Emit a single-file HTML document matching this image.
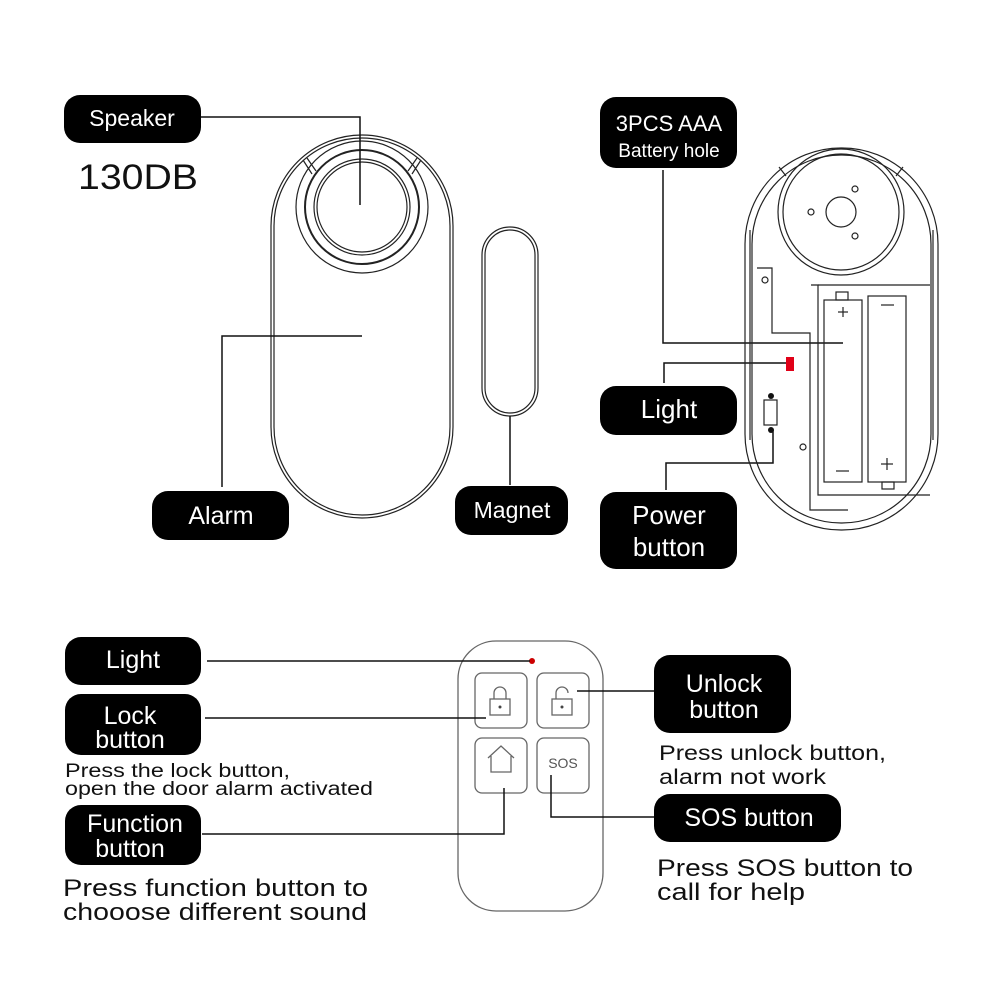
<!DOCTYPE html>
<html><head><meta charset="utf-8"><style>
body{margin:0;background:#fff;}
svg{display:block}
text{font-family:"Liberation Sans",sans-serif;}
</style></head><body>
<svg width="1000" height="1000" viewBox="0 0 1000 1000" xmlns="http://www.w3.org/2000/svg">
<g fill="none" stroke="#222" stroke-width="1.2">
<rect x="271" y="135" width="182" height="383" rx="91"/>
<rect x="274" y="138" width="176" height="377" rx="88"/>
<circle cx="362" cy="207" r="66"/>
<circle cx="362" cy="207" r="57" stroke-width="2"/>
<circle cx="362" cy="207" r="48"/>
<circle cx="362" cy="207" r="45"/>
<line x1="303" y1="160" x2="312" y2="174"/><line x1="307" y1="158" x2="316" y2="171"/>
<line x1="421" y1="160" x2="412" y2="174"/><line x1="417" y1="158" x2="408" y2="171"/>
<rect x="482" y="227" width="56" height="189" rx="28"/>
<rect x="485" y="230" width="50" height="183" rx="25"/>
</g>
<g fill="none" stroke="#111" stroke-width="1.5">
<polyline points="201,117 360,117 360,205"/>
<polyline points="222,487 222,336 362,336"/>
<line x1="510" y1="416" x2="510" y2="485"/>
<polyline points="663,170 663,343 843,343"/>
<polyline points="664,383 664,363 790,363"/>
<polyline points="666,490 666,463 773,463 773,430"/>
</g>
<g fill="none" stroke="#222" stroke-width="1.2">
<rect x="745" y="148" width="193" height="382" rx="96"/>
<rect x="752" y="155" width="179" height="368" rx="89"/>
<circle cx="841" cy="212" r="63"/>
<circle cx="841" cy="212" r="58"/>
<circle cx="841" cy="212" r="15"/>
<circle cx="811" cy="212" r="3"/><circle cx="855" cy="189" r="3"/><circle cx="855" cy="236" r="3"/>
<line x1="779" y1="167" x2="786" y2="176"/><line x1="903" y1="167" x2="896" y2="176"/>
<line x1="750" y1="230" x2="750" y2="440"/><line x1="933" y1="230" x2="933" y2="440"/>
<polyline points="757,268 772,268 772,333 810,333 810,510 848,510"/>
<polyline points="811,285 818,285 818,495 930,495"/>
<polyline points="818,285 930,285"/>
<circle cx="765" cy="280" r="3"/>
<circle cx="803" cy="447" r="3"/>
<rect x="824" y="300" width="38" height="182"/>
<rect x="836" y="292" width="12" height="8"/>
<rect x="868" y="296" width="38" height="186"/>
<rect x="882" y="482" width="12" height="7"/>
<line x1="843" y1="307" x2="843" y2="317"/><line x1="838" y1="312" x2="848" y2="312"/>
<line x1="836" y1="471" x2="849" y2="471"/>
<line x1="881" y1="305" x2="894" y2="305"/>
<line x1="887" y1="458" x2="887" y2="470"/><line x1="881" y1="464" x2="893" y2="464"/>
<rect x="764" y="400" width="13" height="25"/>
</g>
<circle cx="771" cy="396" r="3" fill="#111"/><circle cx="771" cy="430" r="3" fill="#111"/>
<rect x="786" y="357" width="8" height="14" fill="#e00018"/>
<g fill="none" stroke="#666" stroke-width="1.3">
<rect x="458" y="641" width="145" height="270" rx="38"/>
<rect x="475" y="673" width="52" height="55" rx="7"/>
<rect x="537" y="673" width="52" height="55" rx="7"/>
<rect x="475" y="738" width="52" height="55" rx="7"/>
<rect x="537" y="738" width="52" height="55" rx="7"/>
<rect x="490" y="699" width="20" height="16"/>
<path d="M494 699 v-6 a6 6 0 0 1 12 0 v6"/>
<rect x="552" y="699" width="20" height="16"/>
<path d="M556 699 v-6 a6 6 0 0 1 12 0"/>
<path d="M488 758 l13 -12 l13 12 M491 756 v16 h20 v-16"/>
</g>
<circle cx="500" cy="707" r="1.5" fill="#444"/><circle cx="562" cy="707" r="1.5" fill="#444"/>
<text x="563" y="768" font-size="14" fill="#555" text-anchor="middle">SOS</text>
<circle cx="532" cy="661" r="3" fill="#c00"/>
<g fill="none" stroke="#111" stroke-width="1.5">
<line x1="207" y1="661" x2="530" y2="661"/>
<line x1="205" y1="718" x2="486" y2="718"/>
<polyline points="202,834 504,834 504,788"/>
<line x1="577" y1="691" x2="654" y2="691"/>
<polyline points="551,775 551,817 654,817"/>
</g>
<g fill="#000">
<rect x="64" y="95" width="137" height="48" rx="16"/>
<rect x="152" y="491" width="137" height="49" rx="16"/>
<rect x="455" y="486" width="113" height="49" rx="16"/>
<rect x="600" y="97" width="137" height="71" rx="16"/>
<rect x="600" y="386" width="137" height="49" rx="16"/>
<rect x="600" y="492" width="137" height="77" rx="16"/>
<rect x="65" y="637" width="136" height="48" rx="16"/>
<rect x="65" y="694" width="136" height="61" rx="16"/>
<rect x="65" y="805" width="136" height="60" rx="16"/>
<rect x="654" y="655" width="137" height="78" rx="16"/>
<rect x="654" y="794" width="187" height="48" rx="16"/>
</g>
<g fill="#fff" text-anchor="middle">
<text x="132" y="126" font-size="23">Speaker</text>
<text x="221" y="524" font-size="25">Alarm</text>
<text x="512" y="518" font-size="23">Magnet</text>
<text x="669" y="131" font-size="22">3PCS AAA</text>
<text x="669" y="157" font-size="19">Battery hole</text>
<text x="669" y="418" font-size="26">Light</text>
<text x="669" y="524" font-size="26">Power</text>
<text x="669" y="556" font-size="26">button</text>
<text x="133" y="668" font-size="25">Light</text>
<text x="130" y="724" font-size="25">Lock</text>
<text x="130" y="748" font-size="25">button</text>
<text x="135" y="832" font-size="25">Function</text>
<text x="130" y="857" font-size="25">button</text>
<text x="724" y="692" font-size="25">Unlock</text>
<text x="724" y="718" font-size="25">button</text>
<text x="749" y="826" font-size="25">SOS button</text>
</g>
<g fill="#111">
<text x="78" y="189" font-size="35" textLength="120" lengthAdjust="spacingAndGlyphs">130DB</text>
<text x="65" y="777" font-size="19" textLength="225" lengthAdjust="spacingAndGlyphs">Press the lock button,</text>
<text x="65" y="795" font-size="19" textLength="308" lengthAdjust="spacingAndGlyphs">open the door alarm activated</text>
<text x="63" y="896" font-size="24" textLength="305" lengthAdjust="spacingAndGlyphs">Press function button to</text>
<text x="63" y="920" font-size="24" textLength="304" lengthAdjust="spacingAndGlyphs">chooose different sound</text>
<text x="659" y="760" font-size="21" textLength="227" lengthAdjust="spacingAndGlyphs">Press unlock button,</text>
<text x="659" y="784" font-size="21" textLength="167" lengthAdjust="spacingAndGlyphs">alarm not work</text>
<text x="657" y="876" font-size="24" textLength="256" lengthAdjust="spacingAndGlyphs">Press SOS button to</text>
<text x="657" y="900" font-size="24" textLength="148" lengthAdjust="spacingAndGlyphs">call for help</text>
</g>
</svg>
</body></html>
